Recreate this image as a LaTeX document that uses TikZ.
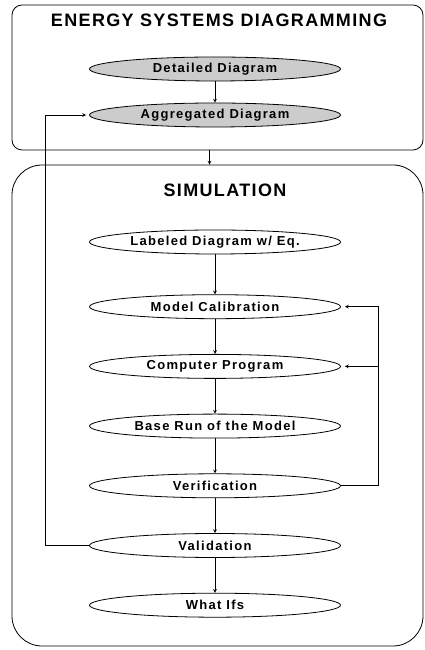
\documentclass[tikz,border=0pt]{standalone}
\usepackage{fontspec}
\setmainfont{Liberation Sans}
\usepackage{tikz}
\usetikzlibrary{shapes.geometric, arrows}
\tikzstyle{group} = [rectangle, draw=black, line width=0.8pt, minimum width=411pt, inner sep=0pt]
\tikzstyle{stage} = [ellipse, minimum width=251pt, minimum height=24pt, inner sep=0pt, text centered, draw=black, line width=0.8pt, fill=white, font=\fontsize{13}{15}\selectfont\bfseries\addfontfeatures{LetterSpace=10}]
\tikzstyle{heading} = [font=\fontsize{18}{21}\selectfont\bfseries\addfontfeatures{LetterSpace=7.5}]
\tikzstyle{arrow} = [line width=0.7pt,->,>=stealth]

\begin{document}
\begin{tikzpicture}[x=1pt, y=1pt, node distance=59.7pt]
\useasboundingbox (0,0) rectangle (425,650);
\node (esd) [group, minimum height=145pt, rounded corners=10pt] at (217.5,572.5) {};
\node (sim) [group, minimum height=481pt, rounded corners=30pt] at (217.5,244.5) {};
\node (esdtitle) [heading] at (219,630) {ENERGY SYSTEMS DIAGRAMMING};
\node (simtitle) [heading] at (225,460) {SIMULATION};

\node (det) [stage, fill=black!20] at (215,581) {Detailed Diagram};
\node (agg) [stage, fill=black!20] at (215,535) {Aggregated Diagram};

\node (lab) [stage] at (215,408) {Labeled Diagram w/ Eq.};
\node (cal) [stage, below of=lab, yshift=-5pt] {Model Calibration};
\node (prog) [stage, below of=cal] {Computer Program};
\node (base) [stage, below of=prog] {Base Run of the Model};
\node (ver) [stage, below of=base] {Verification};
\node (val) [stage, below of=ver] {Validation};
\node (what) [stage, below of=val] {What Ifs};

\draw [arrow] (det) -- (agg);
\draw [arrow] ([xshift=-8pt]esd.south) -- ([xshift=-8pt]esd.south |- sim.north);
\draw [arrow] (lab) -- (cal);
\draw [arrow] (cal) -- (prog);
\draw [arrow] (prog) -- (base);
\draw [arrow] (base) -- (ver);
\draw [arrow] (ver) -- (val);
\draw [arrow] (val) -- (what);
%feedback loops
\coordinate (back) at (378,0);
\draw [arrow, shorten >=4pt] (ver.east) -- (back |- ver.east) -- (back |- cal.east) -- (cal.east);
\draw [arrow, shorten >=4pt] (back |- prog.east) -- (prog.east);
\coordinate (up) at (45,0);
\draw [arrow, shorten >=3pt] (val.west) -- (up |- val.west) -- (up |- agg.west) -- (agg.west);
\end{tikzpicture}
\end{document}
